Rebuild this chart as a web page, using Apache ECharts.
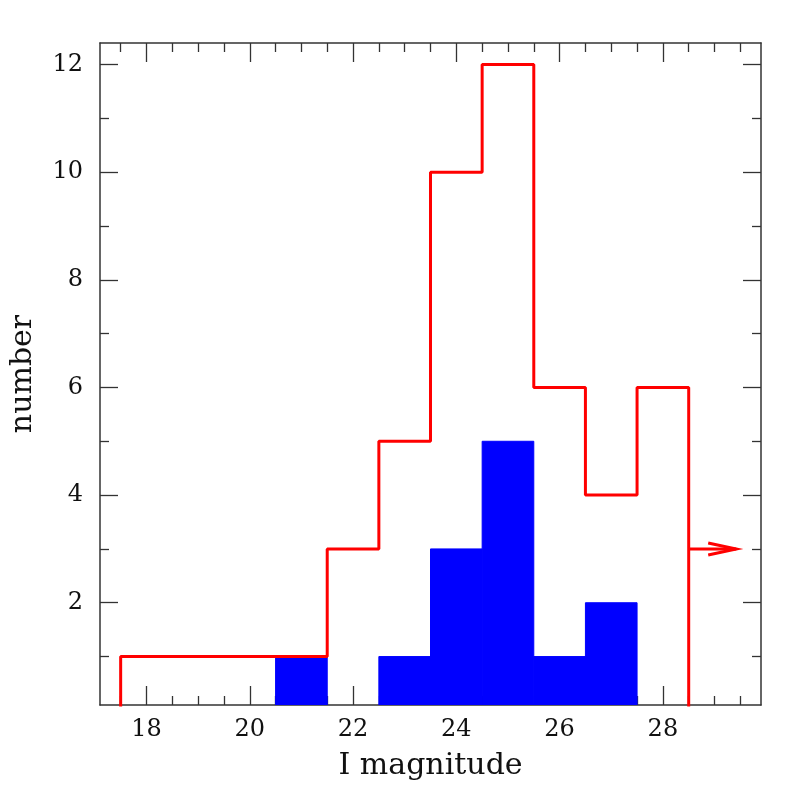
<!DOCTYPE html>
<html>
<head>
<meta charset="utf-8">
<script src="https://cdn.jsdelivr.net/npm/echarts@6/dist/echarts.min.js"></script>
<style>
  html, body { margin: 0; padding: 0; background: #fff; }
  #chart { width: 803px; height: 803px; }
</style>
</head>
<body>
<div id="chart"></div>
<script>
// histogram bins (centres, width 1)
var allCentres = [18, 19, 20, 21, 22, 23, 24, 25, 26, 27, 28];
var allCounts = [1, 1, 1, 1, 3, 5, 10, 12, 6, 4, 6];
var blueCentres = [21, 22, 23, 24, 25, 26, 27];
var blueCounts = [1, 0, 1, 3, 5, 1, 2];
// lower-limit arrow beyond the last bin
var arrowFrom = [28.5, 3];
var arrowTo = [29.42, 3];

var xMajor = [18, 20, 22, 24, 26, 28];
var xMinor = [17.5, 18.5, 19, 19.5, 20.5, 21, 21.5, 22.5, 23, 23.5, 24.5, 25, 25.5, 26.5, 27, 27.5, 28.5, 29, 29.5];
var yMajor = [2, 4, 6, 8, 10, 12];
var yMinor = [1, 3, 5, 7, 9, 11];

var font = 'DejaVu Serif';
var axisCol = '#333';

// outline of the red histogram
var outline = [];
var half = 0.5;
outline.push([allCentres[0] - half, 0]);
for (var i = 0; i < allCentres.length; i++) {
    outline.push([allCentres[i] - half, allCounts[i]]);
    outline.push([allCentres[i] + half, allCounts[i]]);
}
outline.push([allCentres[allCentres.length - 1] + half, 0]);

var blueData = [];
for (var j = 0; j < blueCentres.length; j++) {
    blueData.push([blueCentres[j], blueCounts[j]]);
}

function xAx(pos, ticks, len, labels, line) {
    return {
        type: 'value', position: pos, min: 17.1, max: 29.9,
        axisLine: { show: line, onZero: false, lineStyle: { color: axisCol, width: 1.5 } },
        axisTick: { show: true, inside: true, length: len, customValues: ticks, lineStyle: { color: axisCol, width: 1.3 } },
        axisLabel: labels ? { show: true, customValues: ticks, fontFamily: font, fontSize: 24, color: '#111', margin: 13 } : { show: false },
        splitLine: { show: false }
    };
}
function yAx(pos, ticks, len, labels, line) {
    return {
        type: 'value', position: pos, min: 0.1, max: 12.4,
        axisLine: { show: line, onZero: false, lineStyle: { color: axisCol, width: 1.5 } },
        axisTick: { show: true, inside: true, length: len, customValues: ticks, lineStyle: { color: axisCol, width: 1.3 } },
        axisLabel: labels ? { show: true, customValues: ticks, fontFamily: font, fontSize: 24, color: '#111', margin: 17 } : { show: false },
        splitLine: { show: false }
    };
}

var xAxes = [
    xAx('bottom', xMajor, 19, true, true),
    xAx('bottom', xMinor, 9, false, false),
    xAx('top', xMajor, 19, false, true),
    xAx('top', xMinor, 9, false, false)
];
xAxes[0].name = 'I magnitude';
xAxes[0].nameLocation = 'middle';
xAxes[0].nameGap = 46;
xAxes[0].nameTextStyle = { fontFamily: font, fontSize: 30, color: '#111' };

var yAxes = [
    yAx('left', yMajor, 18, true, true),
    yAx('left', yMinor, 9, false, false),
    yAx('right', yMajor, 18, false, true),
    yAx('right', yMinor, 9, false, false)
];
yAxes[0].name = 'number';
yAxes[0].nameLocation = 'middle';
yAxes[0].nameGap = 62;
yAxes[0].nameTextStyle = { fontFamily: font, fontSize: 30, color: '#111' };

var chart = echarts.init(document.getElementById('chart'));
chart.setOption({
    animation: false,
    backgroundColor: '#fff',
    grid: { left: 100, right: 42, top: 43, bottom: 98, containLabel: false, outerBoundsMode: 'none' },
    xAxis: xAxes,
    yAxis: yAxes,
    series: [
        {
            type: 'custom',
            clip: true,
            data: blueData,
            renderItem: function (params, api) {
                var c = api.value(0), n = api.value(1);
                if (!n) return null;
                var p0 = api.coord([c - half, 0]);
                var p1 = api.coord([c + half, n]);
                return {
                    type: 'rect',
                    shape: { x: p0[0], y: p1[1], width: p1[0] - p0[0], height: p0[1] - p1[1] },
                    style: { fill: '#0000ff', stroke: '#0000ff', lineWidth: 1 }
                };
            },
            z: 2
        },
        {
            type: 'line',
            data: outline,
            symbol: 'none',
            clip: true,
            lineStyle: { color: '#ff0000', width: 3 },
            z: 3
        },
        {
            type: 'custom',
            clip: true,
            data: [[arrowFrom[0], arrowFrom[1], arrowTo[0], arrowTo[1]]],
            renderItem: function (params, api) {
                var a = api.coord([api.value(0), api.value(1)]);
                var b = api.coord([api.value(2), api.value(3)]);
                return {
                    type: 'group',
                    children: [
                        { type: 'line', shape: { x1: a[0], y1: a[1], x2: b[0], y2: b[1] },
                          style: { stroke: '#ff0000', lineWidth: 3 } },
                        { type: 'polyline', shape: { points: [[b[0] - 28, b[1] - 6], [b[0], b[1]], [b[0] - 28, b[1] + 6]] },
                          style: { stroke: '#ff0000', lineWidth: 3, fill: null } }
                    ]
                };
            },
            z: 4
        }
    ]
});
</script>
</body>
</html>
